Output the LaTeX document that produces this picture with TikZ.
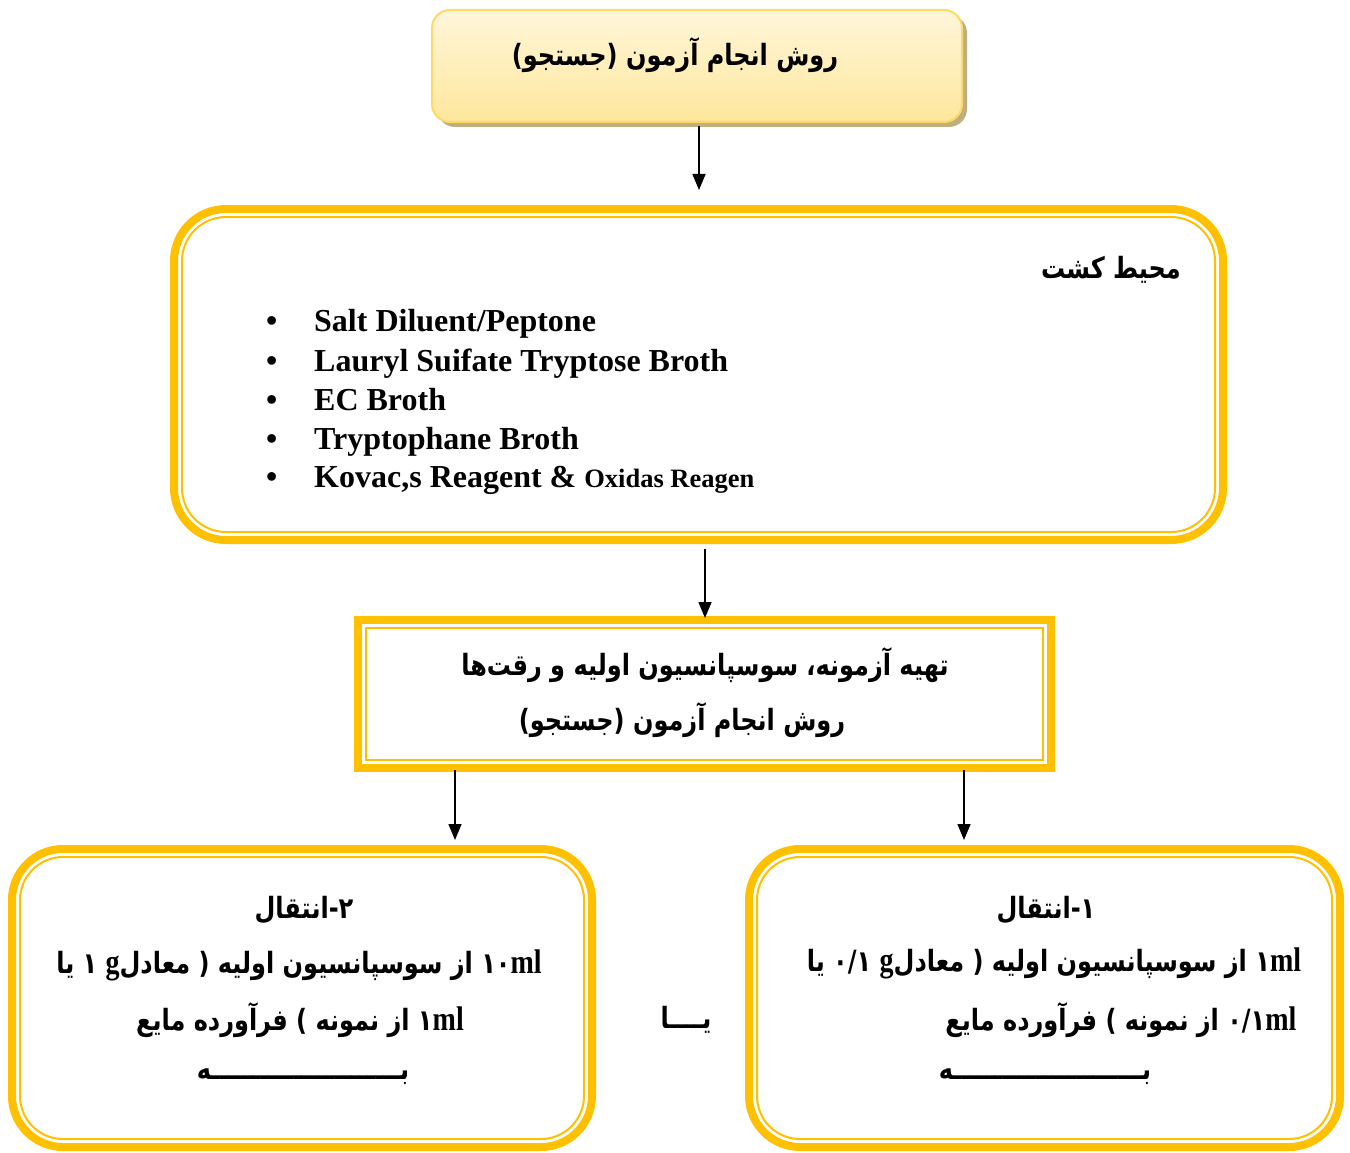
\documentclass[tikz,border=0pt]{standalone}
\usepackage{fontspec}
\setmainfont{Liberation Serif}
\newfontfamily\fa[Script=Arabic]{DejaVu Sans}
\TeXXeTstate=1
\usetikzlibrary{arrows.meta,calc,shadows}

\definecolor{gold}{HTML}{FFC000}
\definecolor{paleTop}{HTML}{FFF6DA}
\definecolor{paleBot}{HTML}{FEE79C}
\definecolor{tanShadow}{HTML}{BFAE7E}
\definecolor{paleEdge}{HTML}{FFD966}

% Persian line set right to left (slightly tall letters); Latin pieces stay left to right
\newcommand\faline[1]{\scalebox{1}[1.22]{\beginR #1\endR}}
\newcommand\lat[1]{{\rmfamily\bfseries\fontsize{28}{32}\selectfont #1}}

\begin{document}
\begin{tikzpicture}[x=1pt,y=-1pt,
  frame/.style={draw=gold,line width=8pt,inner sep=0pt,outer sep=0pt,fill=white},
  innerline/.style={draw=gold,line width=2pt},
  arr/.style={line width=1.5pt,-{Triangle[length=16pt,width=13pt]}},
  fatxt/.style={font=\fa\bfseries\fontsize{24}{28}\selectfont,inner sep=0pt},
  listtxt/.style={font=\bfseries\fontsize{32}{36}\selectfont,inner sep=0pt,anchor=base west}]

\useasboundingbox[fill=white] (0,0) rectangle (1350,1153);

% ---- title box with gradient and flat shadow
\node[draw=paleEdge,line width=2pt,rounded corners=18pt,top color=paleTop,bottom color=paleBot,
      minimum width=530pt,minimum height=112pt,inner sep=0pt,outer sep=0pt,
      general shadow={shadow xshift=5pt,shadow yshift=-5pt,fill=tanShadow}] (title) at (697,66) {};
\node[fatxt] (titletxt) at (675,55) {\faline{روش انجام آزمون (جستجو)}};

% ---- culture media box
\node[frame,rounded corners=52pt,minimum width=1049pt,minimum height=331pt] (media) at (698.5,374.5) {};
\draw[innerline,rounded corners=44pt] ([shift={(8pt,-8pt)}]media.north west) rectangle ([shift={(-8pt,8pt)}]media.south east);
\node[fatxt,anchor=east] (mediahead) at (1181,270) {\faline{محیط کشت}};

\foreach \yy/\nm in {331/b1,371/b2,410/b3,449/b4,487/b5}
  \node[listtxt] (\nm) at (266,\yy) {•};
\node[listtxt] (l1) at (314,331) {Salt Diluent/Peptone};
\node[listtxt] (l2) at (314,371) {Lauryl Suifate Tryptose Broth};
\node[listtxt] (l3) at (314,410) {EC Broth};
\node[listtxt] (l4) at (314,449) {Tryptophane Broth};
\node[listtxt] (l5) at (314,487) {Kovac,s Reagent \& {\fontsize{26.5}{30}\selectfont Oxidas Reagen}};

% ---- preparation box
\node[frame,minimum width=693pt,minimum height=148pt] (prep) at (704.5,694) {};
\draw[innerline] ([shift={(8pt,-8pt)}]prep.north west) rectangle ([shift={(-8pt,8pt)}]prep.south east);
\node[fatxt] (prep1) at (705,665) {\faline{تهیه آزمونه، سوسپانسیون اولیه و رقت‌ها}};
\node[fatxt] (prep2) at (682,720) {\faline{روش انجام آزمون (جستجو)}};

% ---- transfer boxes
\node[frame,rounded corners=51pt,minimum width=580pt,minimum height=298pt] (left) at (302,998) {};
\draw[innerline,rounded corners=43pt] ([shift={(8pt,-8pt)}]left.north west) rectangle ([shift={(-8pt,8pt)}]left.south east);
\node[frame,rounded corners=51pt,minimum width=591pt,minimum height=298pt] (right) at (1044.5,998) {};
\draw[innerline,rounded corners=43pt] ([shift={(8pt,-8pt)}]right.north west) rectangle ([shift={(-8pt,8pt)}]right.south east);

\node[fatxt] (L1) at (304,910) {\faline{۲\kern0pt-\kern0pt انتقال}};
\node[fatxt] (L2) at (299,965) {\faline{\beginL ۱۰\lat{ml}\endL{} از سوسپانسیون اولیه ( معادل\lat{g} ۱ یا}};
\node[fatxt] (L3) at (300,1020) {\faline{\beginL ۱\lat{ml}\endL{} از نمونه ) فرآورده مایع}};
\node[fatxt] (L4) at (303,1077) {\faline{بـــــــــــــــــــــــه}};

\node[fatxt] (R1) at (1046,910) {\faline{۱\kern0pt-\kern0pt انتقال}};
\node[fatxt] (R2) at (1054,963) {\faline{\beginL ۱\lat{ml}\endL{} از سوسپانسیون اولیه ( معادل\lat{g} \beginL ۰/۱\endL{} یا}};
\node[fatxt] (R3) at (1121,1020) {\faline{\beginL ۰/۱\lat{ml}\endL{} از نمونه ) فرآورده مایع}};
\node[fatxt] (R4) at (1045,1077) {\faline{بـــــــــــــــــــــــه}};

\node[fatxt] (or) at (686,1020) {\faline{یــــا}};

% ---- connectors
\draw[arr] ([xshift=2pt,yshift=-4pt]title.south) -- ([xshift=0.5pt,yshift=19pt]media.north);
\draw[arr] ([xshift=6.5pt,yshift=-9pt]media.south) -- ([xshift=0.5pt,yshift=2pt]prep.north);
\draw[arr] ([xshift=-249.5pt,yshift=-2pt]prep.south) -- ([xshift=153pt,yshift=9pt]left.north);
\draw[arr] ([xshift=259.5pt,yshift=-2pt]prep.south) -- ([xshift=-80.5pt,yshift=9pt]right.north);
\end{tikzpicture}
\end{document}
